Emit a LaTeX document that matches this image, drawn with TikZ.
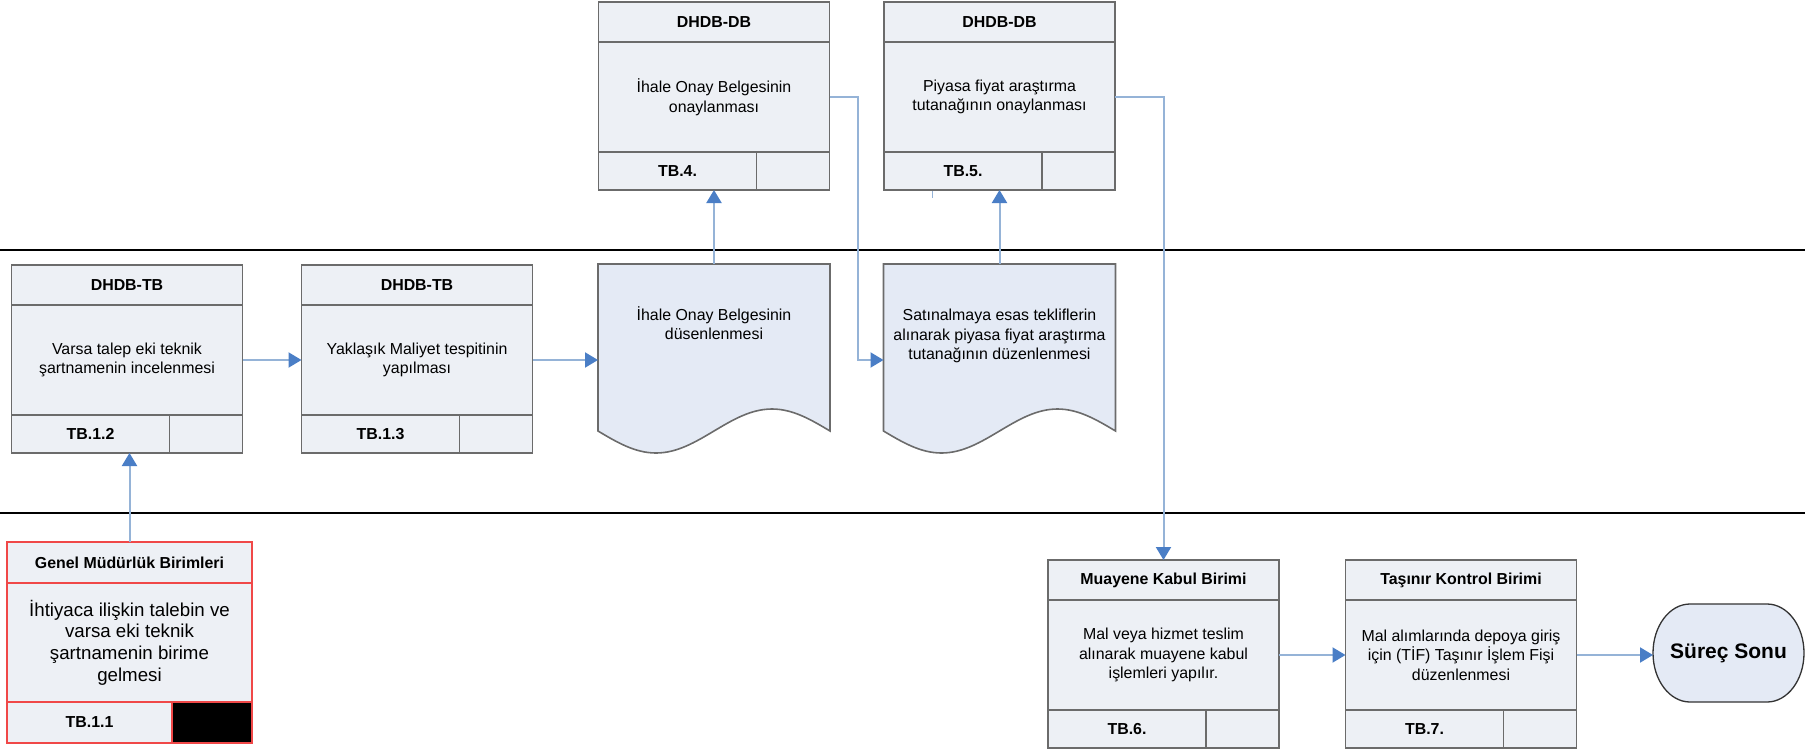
\documentclass[tikz,border=0pt]{standalone}
\usepackage{fontspec}
\setmainfont{Liberation Sans}
\usetikzlibrary{positioning,arrows.meta}

\definecolor{boxline}{HTML}{6B6B6B}
\definecolor{boxfill}{HTML}{EDF0F5}
\definecolor{docfill}{HTML}{E4EAF5}
\definecolor{redline}{HTML}{F04848}
\definecolor{flowline}{HTML}{95B3D7}
\definecolor{tipblue}{HTML}{4A7EC6}

\newcommand\hdfont{\fontsize{15.9}{19}\selectfont\bfseries}
\newcommand\bdfont{\fontsize{15.9}{19.5}\selectfont}
\newcommand\gmfont{\fontsize{18.7}{21.7}\selectfont}
\newcommand\sonufont{\fontsize{21}{25}\selectfont\bfseries}

\begin{document}
\begin{tikzpicture}[x=1pt, y=-1pt,
    lane/.style={line width=2.7pt},
    cell/.style={draw=boxline, fill=boxfill, line width=1.6pt, inner sep=0pt, outer sep=0pt},
    boxhead/.style={cell, minimum width=231pt, minimum height=40pt, font=\hdfont},
    boxbody/.style={cell, minimum width=231pt, minimum height=110pt, align=center, font=\bdfont},
    boxcode/.style={cell, minimum width=158pt, minimum height=38pt, font=\hdfont},
    boxnote/.style={cell, minimum width=73pt, minimum height=38pt},
    gmhead/.style={cell, draw=redline, minimum width=245pt, minimum height=41pt, font=\hdfont},
    gmbody/.style={cell, draw=redline, minimum width=245pt, minimum height=119pt, align=center, font=\gmfont},
    gmcode/.style={cell, draw=redline, minimum width=165pt, minimum height=41pt, font=\hdfont},
    gmnote/.style={cell, draw=redline, fill=black, minimum width=80pt, minimum height=41pt},
    docarea/.style={minimum width=232pt, minimum height=167pt, inner sep=0pt, outer sep=0pt},
    docshape/.style={draw=boxline, fill=docfill, line width=1.6pt},
    doctext/.style={align=center, font=\bdfont, inner sep=0pt},
    flow/.style={draw=flowline, line width=2pt, -{Triangle[length=13pt, width=15pt, color=tipblue]}}]

  \useasboundingbox (0,0) rectangle (1805,748);

  % Draw lanes
  \draw[lane] (0,250) -- (1805,250);
  \draw[lane] (0,513) -- (1805,513);

  % Genel Mudurluk box
  \node[gmbody] (gm) at (129.5,642.5) {İhtiyaca ilişkin talebin ve\\varsa eki teknik\\şartnamenin birime\\gelmesi};
  \node[gmhead, above=0pt of gm] (gmh) {Genel Müdürlük Birimleri};
  \node[gmcode, anchor=north west] (gmc) at (gm.south west) {TB.1.1};
  \node[gmnote, right=0pt of gmc] (gmn) {};

  % DHDB-TB boxes
  \node[boxbody] (tb12) at (127,360) {Varsa talep eki teknik\\şartnamenin incelenmesi};
  \node[boxhead, above=0pt of tb12] (tb12h) {DHDB-TB};
  \node[boxcode, anchor=north west] (tb12c) at (tb12.south west) {TB.1.2};
  \node[boxnote, right=0pt of tb12c] (tb12n) {};

  \node[boxbody] (tb13) at (417,360) {Yaklaşık Maliyet tespitinin\\yapılması};
  \node[boxhead, above=0pt of tb13] (tb13h) {DHDB-TB};
  \node[boxcode, anchor=north west] (tb13c) at (tb13.south west) {TB.1.3};
  \node[boxnote, right=0pt of tb13c] (tb13n) {};

  % Documents
  \node[docarea] (doc1) at (714,347.5) {};
  \filldraw[docshape] (doc1.south west) -- (doc1.north west) -- (doc1.north east) -- (doc1.south east)
    sin ++(-58,-22) cos ++(-58,22) sin ++(-58,22) cos ++(-58,-22) -- cycle;
  \node[doctext] (doc1t) at (714,323) {İhale Onay Belgesinin\\düsenlenmesi};

  \node[docarea] (doc2) at (999.5,347.5) {};
  \filldraw[docshape] (doc2.south west) -- (doc2.north west) -- (doc2.north east) -- (doc2.south east)
    sin ++(-58,-22) cos ++(-58,22) sin ++(-58,22) cos ++(-58,-22) -- cycle;
  \node[doctext] (doc2t) at (999.5,336) {Satınalmaya esas tekliflerin\\alınarak piyasa fiyat araştırma\\tutanağının düzenlenmesi};

  % DHDB-DB boxes
  \node[boxbody] (tb4) at (714,97) {İhale Onay Belgesinin\\onaylanması};
  \node[boxhead, above=0pt of tb4] (tb4h) {DHDB-DB};
  \node[boxcode, anchor=north west] (tb4c) at (tb4.south west) {TB.4.};
  \node[boxnote, right=0pt of tb4c] (tb4n) {};

  \node[boxbody] (tb5) at (999.5,97) {Piyasa fiyat araştırma\\tutanağının onaylanması};
  \node[boxhead, above=0pt of tb5] (tb5h) {DHDB-DB};
  \node[boxcode, anchor=north west] (tb5c) at (tb5.south west) {TB.5.};
  \node[boxnote, right=0pt of tb5c] (tb5n) {};
  \draw[flowline, line width=1pt] (932,191) -- (932,198);

  % Lower boxes
  \node[boxbody] (tb6) at (1163.5,655) {Mal veya hizmet teslim\\alınarak muayene kabul\\işlemleri yapılır.};
  \node[boxhead, above=0pt of tb6] (tb6h) {Muayene Kabul Birimi};
  \node[boxcode, anchor=north west] (tb6c) at (tb6.south west) {TB.6.};
  \node[boxnote, right=0pt of tb6c] (tb6n) {};

  \node[boxbody] (tb7) at (1461,655) {Mal alımlarında depoya giriş\\için (TİF) Taşınır İşlem Fişi\\düzenlenmesi};
  \node[boxhead, above=0pt of tb7] (tb7h) {Taşınır Kontrol Birimi};
  \node[boxcode, anchor=north west] (tb7c) at (tb7.south west) {TB.7.};
  \node[boxnote, right=0pt of tb7c] (tb7n) {};

  % End
  \filldraw[docshape, line width=1.3pt, draw=black!80] (1690,604) -- (1767,604)
    arc[start angle=90, end angle=-90, x radius=37pt, y radius=49pt] -- (1690,702)
    arc[start angle=270, end angle=90, x radius=37pt, y radius=49pt] -- cycle;
  \node[font=\sonufont, minimum width=151pt, minimum height=98pt, inner sep=0pt, outer sep=0pt] (sonu) at (1728.5,653) {Süreç Sonu};

  % Connectors
  \draw[flow] (gmh.north) -- (gmh.north |- tb12c.south);
  \draw[flow] (tb12.east) -- (tb13.west);
  \draw[flow] (tb13.east) -- (tb13.east -| doc1.west);
  \draw[flow] (doc1.north) -- (doc1.north |- tb4c.south);
  \draw[flow] (tb4.east) -- ++(28,0) |- (doc2.west |- tb13.east);
  \draw[flow] (doc2.north) -- (doc2.north |- tb5c.south);
  \draw[flow] (tb5.east) -| (tb6h.north);
  \draw[flow] (tb6.east) -- (tb7.west);
  \draw[flow] (tb7.east) -- (tb7.east -| sonu.west);
\end{tikzpicture}
\end{document}
